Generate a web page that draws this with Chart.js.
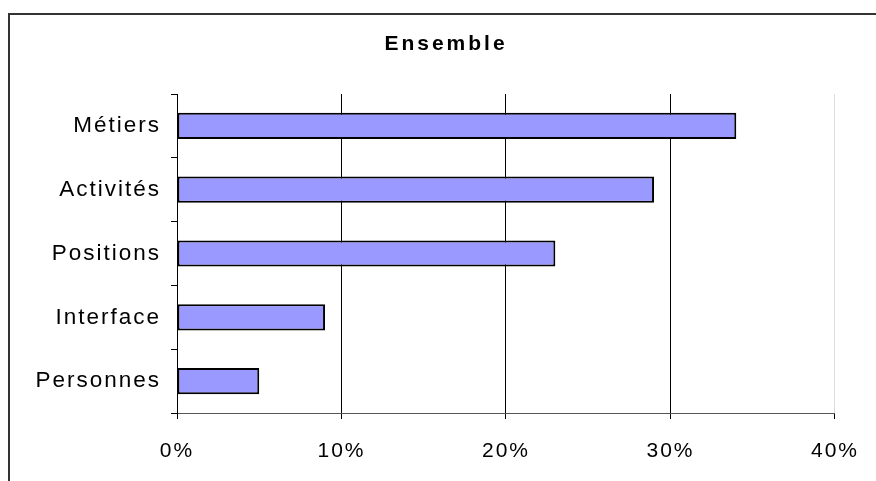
<!DOCTYPE html>
<html>
<head>
<meta charset="utf-8">
<script src="https://cdn.jsdelivr.net/npm/chart.js"></script>
<style>
  html, body { margin: 0; padding: 0; background: #fff; }
  #wrap { position: relative; width: 876px; height: 481px; overflow: hidden; }
  #frame {
    position: absolute; left: 8px; top: 13px; right: -4px; bottom: -4px;
    border-top: 2px solid #333; border-left: 2px solid #333;
    pointer-events: none;
  }
  canvas { position: absolute; left: 0; top: 0; }
</style>
</head>
<body>
<div id="wrap">
  <canvas id="chart" width="876" height="481"></canvas>
  <div id="frame"></div>
</div>
<script>
const categories = ['Métiers', 'Activités', 'Positions', 'Interface', 'Personnes'];
const shares = [34, 29, 23, 9, 5];
const xTicks = [0, 10, 20, 30, 40];
const chartTitle = 'Ensemble';

const FONT = '"Liberation Sans", Arial, sans-serif';

// spaced-out letters like the original office chart
const spacedText = {
  id: 'spacedText',
  beforeDraw(chart) {
    chart.ctx.letterSpacing = '2px';
  },
  afterDraw(chart) {
    const c = chart.ctx;
    c.save();
    c.letterSpacing = '3px';
    c.font = 'bold 21px ' + FONT;
    c.fillStyle = '#000';
    c.textAlign = 'center';
    c.textBaseline = 'middle';
    c.fillText(chartTitle, 446, 44);
    c.restore();
  }
};

document.addEventListener('DOMContentLoaded', function() {
  const ctx = document.getElementById('chart');

  new Chart(ctx, {
    type: 'bar',
    data: {
      labels: categories,
      datasets: [{
        data: shares,
        backgroundColor: '#9999ff',
        borderColor: '#000',
        borderWidth: 2,
        borderSkipped: false,
        categoryPercentage: 1,
        barPercentage: 0.41
      }]
    },
    options: {
      indexAxis: 'y',
      responsive: false,
      animation: false,
      layout: {
        padding: { left: 0, right: 36, top: 94, bottom: 0 }
      },
      plugins: {
        legend: { display: false },
        tooltip: { enabled: false },
        title: { display: false }
      },
      scales: {
        x: {
          min: 0,
          max: 40,
          afterBuildTicks: function(scale) {
            scale.ticks = xTicks.map(v => ({ value: v }));
          },
          afterFit: function(scale) {
            scale.height = 68;
          },
          grid: {
            color: function(c) {
              return c.tick && c.tick.value === 40 ? '#dcdcdc' : '#000';
            },
            tickColor: '#000',
            tickLength: 6,
            lineWidth: 1
          },
          border: { color: '#555', width: 1 },
          ticks: {
            color: '#000',
            padding: 20,
            maxRotation: 0,
            font: { family: FONT, size: 21 },
            callback: function(value) {
              return value + '%';
            }
          }
        },
        y: {
          afterFit: function(scale) {
            scale.width = 177;
          },
          grid: {
            drawOnChartArea: false,
            offset: true,
            color: '#000',
            tickLength: 6
          },
          border: { color: '#000', width: 1 },
          ticks: {
            color: '#000',
            padding: 10,
            font: { family: FONT, size: 22.5 }
          }
        }
      }
    },
    plugins: [spacedText]
  });
});
</script>
</body>
</html>
